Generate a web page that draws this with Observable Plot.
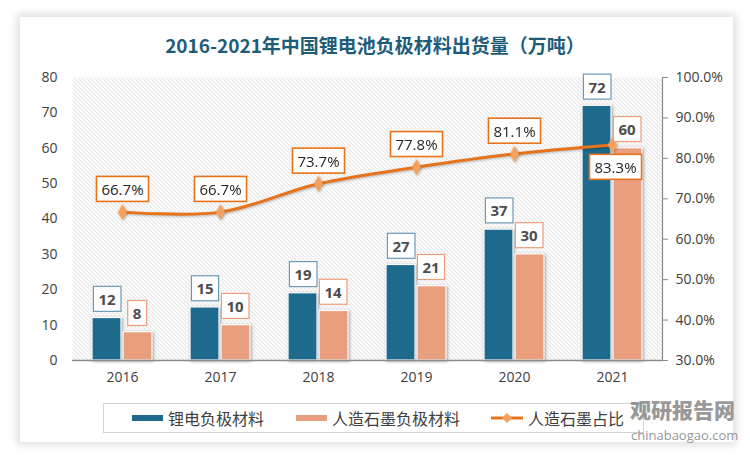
<!DOCTYPE html>
<html><head><meta charset="utf-8">
<script src="https://cdn.jsdelivr.net/npm/d3@7"></script>
<script src="https://cdn.jsdelivr.net/npm/@observablehq/plot@0.6"></script>
<style>
html,body{margin:0;padding:0;background:#fff;}
#wrap{position:relative;width:750px;height:460px;overflow:hidden;background:#fff;}
#card{position:absolute;left:20px;top:17px;width:713px;height:425px;background:#fff;box-shadow:0 0 8px 3px rgba(0,0,0,0.13);}
#title{position:absolute;left:0;top:31px;width:750px;text-align:center;font-family:"Noto Sans CJK SC";font-weight:bold;font-size:19px;color:#1f5c7a;line-height:28px;}
#chart{position:absolute;left:0;top:60px;}
#legend{position:absolute;left:103px;top:403px;width:541px;height:30px;border:1px solid #d4d4d4;box-sizing:border-box;font-family:"Noto Sans CJK SC";font-size:16px;color:#404040;white-space:nowrap;}
.item{position:absolute;top:0;height:28px;display:flex;align-items:center;gap:5px;white-space:nowrap;}
.sw{width:31px;height:6px;flex-shrink:0;}
#wm1{position:absolute;left:630px;top:397px;font-family:"Noto Sans CJK SC";font-weight:900;font-size:21px;line-height:24px;color:rgba(120,120,120,0.75);white-space:nowrap;}
#wm2{position:absolute;left:631px;top:427px;font-family:"Open Sans";font-size:13px;line-height:16px;color:rgba(120,120,120,0.8);white-space:nowrap;}
</style></head>
<body>
<div id="wrap">
<div id="card"></div>
<div id="title">2016-2021年中国锂电池负极材料出货量（万吨）</div>
<div id="chart"></div>
<div id="legend">
 <div class="item" style="left:28px"><div class="sw" style="background:#1e6a8d"></div><span>锂电负极材料</span></div>
 <div class="item" style="left:192px"><div class="sw" style="background:#e99f7d"></div><span>人造石墨负极材料</span></div>
 <div class="item" style="left:387px"><svg width="32" height="12" style="flex-shrink:0"><line x1="0" y1="6" x2="32" y2="6" stroke="#e8731a" stroke-width="3"/><path d="M16,1 L21,6 L16,11 L11,6 Z" fill="#f4a15d"/></svg><span>人造石墨占比</span></div>
</div>
<div id="wm1">观研报告网</div>
<div id="wm2">chinabaogao.com</div>
</div>
<script>
const years = ["2016","2017","2018","2019","2020","2021"];
const liValues = [12, 15, 19, 27, 37, 72];
const graphiteValues = [8, 10, 14, 21, 30, 60];
const graphiteShare = [66.7, 66.7, 73.7, 77.8, 81.1, 83.3];
const leftTicks = [0, 10, 20, 30, 40, 50, 60, 70, 80];
const rightTicks = [30, 40, 50, 60, 70, 80, 90, 100];

const toLeft = p => (p - 30) / 70 * 80;
const liRows = years.map((y, i) => ({year: y, value: liValues[i]}));
const grRows = years.map((y, i) => ({year: y, value: graphiteValues[i]}));
const shareRows = years.map((y, i) => ({year: y, share: graphiteShare[i], v: toLeft(graphiteShare[i])}));

const chart = Plot.plot({
  width: 750, height: 340,
  marginTop: 17, marginBottom: 40, marginLeft: 72, marginRight: 88,
  style: {fontFamily: "'Open Sans'", fontSize: "14px", color: "#404040", background: "transparent", overflow: "visible"},
  x: {domain: years, padding: 0, label: null},
  y: {domain: [0, 80], label: null},
  marks: [
    Plot.frame({fill: "url(#hatch)", stroke: "none"}),
    Plot.axisY({ticks: leftTicks, tickSize: 0, tickPadding: 15, label: null, tickFormat: d => d}),
    Plot.axisY({anchor: "right", ticks: rightTicks.map(toLeft), tickSize: 5, tickPadding: 8, label: null, stroke: "#888",
      tickFormat: (d) => (d / 80 * 70 + 30).toFixed(1) + "%"}),
    Plot.frame({anchor: "right", stroke: "#888", strokeWidth: 1.2}),
    Plot.axisX({tickSize: 0, tickPadding: 12, label: null}),
    Plot.barY(liRows, {x: "year", y: "value", fill: "#1e6a8d", stroke: "#fff", strokeWidth: 1.2, insetLeft: 19, insetRight: 50, ariaDescription: "bars"}),
    Plot.barY(grRows, {x: "year", y: "value", fill: "#e99f7d", stroke: "#fff", strokeWidth: 1.2, insetLeft: 50, insetRight: 19, ariaDescription: "bars"}),
    Plot.ruleY([0], {stroke: "#8c8c8c", strokeWidth: 1.5}),
    Plot.line(shareRows, {x: "year", y: "v", curve: "catmull-rom", stroke: "#e8731a", strokeWidth: 3, ariaDescription: "shadowed"}),
    Plot.dot(shareRows, {x: "year", y: "v", symbol: "diamond", r: 5, fill: "#f4a15d", stroke: "none", ariaDescription: "shadowed"}),
    Plot.text(liRows, {x: "year", y: "value", text: d => String(d.value), dx: -15.5, dy: -18, fontWeight: "bold", fontSize: 15, fill: "#4d4d4d", ariaDescription: "box-blue"}),
    Plot.text(grRows, {x: "year", y: "value", text: d => String(d.value), dx: 14.5, dy: -18, fontWeight: "bold", fontSize: 15, fill: "#4d4d4d", ariaDescription: "box-salmon"}),
    Plot.text(shareRows.filter(d => d.year !== "2021"), {x: "year", y: "v", text: d => d.share.toFixed(1) + "%", dy: -22, fontSize: 15, fill: "#262626", ariaDescription: "box-orange"}),
    Plot.text(shareRows.filter(d => d.year === "2021"), {x: "year", y: "v", text: d => d.share.toFixed(1) + "%", dx: 3, dy: 23, fontSize: 15, fill: "#262626", ariaDescription: "box-orange"})
  ]
});
document.getElementById("chart").appendChild(chart);

const svg = d3.select(chart);
const defs = svg.insert("defs", ":first-child");
const pat = defs.append("pattern").attr("id", "hatch").attr("patternUnits", "userSpaceOnUse").attr("width", 4).attr("height", 4);
pat.append("rect").attr("width", 4).attr("height", 4).attr("fill", "#fff");
pat.append("path").attr("d", "M-1,-1 L5,5 M3,-1 L5,1 M-1,3 L1,5").attr("stroke", "#cfcfcf").attr("stroke-width", 0.9);

svg.selectAll('g[aria-description="bars"]').style("filter", "drop-shadow(1.5px 1px 1.5px rgba(0,0,0,0.35))");
svg.selectAll('g[aria-description="shadowed"]').style("filter", "drop-shadow(1px 1.5px 1px rgba(0,0,0,0.25))");

const borders = {"box-blue": "#6b9cb6", "box-salmon": "#ec9f7c", "box-orange": "#e8731a"};
for (const [key, color] of Object.entries(borders)) {
  svg.selectAll(`g[aria-description="${key}"] text`).each(function() {
    const bb = this.getBBox();
    const padX = 5;
    const h = 25;
    const cy = bb.y + bb.height / 2;
    const r = document.createElementNS("http://www.w3.org/2000/svg", "rect");
    r.setAttribute("x", bb.x - padX);
    r.setAttribute("y", cy - h / 2);
    r.setAttribute("width", bb.width + 2 * padX);
    r.setAttribute("height", h);
    r.setAttribute("fill", "#fff");
    r.setAttribute("stroke", color);
    r.setAttribute("stroke-width", key === "box-orange" ? 1.6 : 1.2);
    const t = this.getAttribute("transform");
    if (t) r.setAttribute("transform", t);
    this.parentNode.insertBefore(r, this);
  });
}
</script>
</body></html>
